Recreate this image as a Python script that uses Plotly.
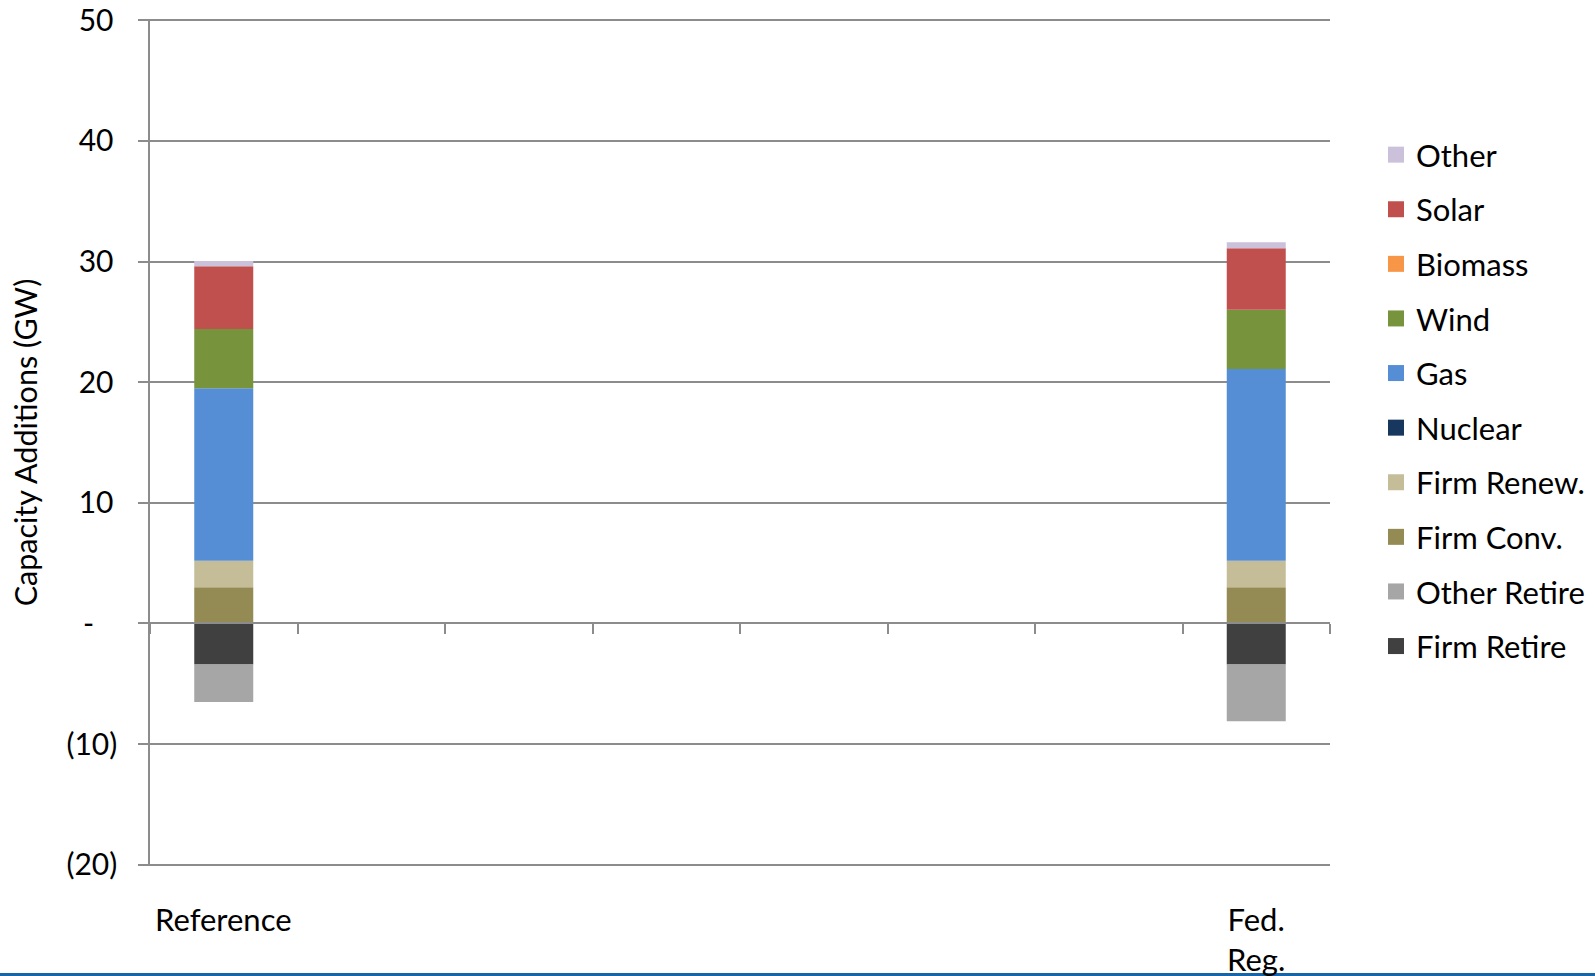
import plotly.graph_objects as go

# Scenario slots along the category axis (only the first and last carry data)
categories = ["Reference", "_2", "_3", "_4", "_5", "_6", "_7", "Fed. Reg."]
scenario_labels = ["Reference", "Fed.<br>Reg."]
scenarios = ["Reference", "Fed. Reg."]

# Capacity additions (GW) by technology, per scenario
firm_retire = [-3.4, -3.4]
other_retire = [-3.1, -4.7]
firm_conv = [3.0, 3.0]
firm_renew = [2.2, 2.2]
nuclear = [0.0, 0.0]
gas = [14.3, 15.9]
wind = [4.9, 4.9]
biomass = [0.0, 0.0]
solar = [5.2, 5.1]
other = [0.45, 0.5]

y_ticks = [-20, -10, 0, 10, 20, 30, 40, 50]
y_tick_labels = ["(20)", "(10)", "-\u00a0\u00a0\u00a0", "10\u2009", "20\u2009", "30\u2009", "40\u2009", "50\u2009"]

# Stack order: negatives first (closest to zero first), then positives bottom-up
series = [
    ("Firm Retire", firm_retire, "#404040"),
    ("Other Retire", other_retire, "#A6A6A6"),
    ("Firm Conv.", firm_conv, "#948A54"),
    ("Firm Renew.", firm_renew, "#C4BD97"),
    ("Nuclear", nuclear, "#17375E"),
    ("Gas", gas, "#558ED5"),
    ("Wind", wind, "#77933C"),
    ("Biomass", biomass, "#F79646"),
    ("Solar", solar, "#C0504D"),
    ("Other", other, "#CCC1DA"),
]
legend_order = ["Other", "Solar", "Biomass", "Wind", "Gas", "Nuclear",
                "Firm Renew.", "Firm Conv.", "Other Retire", "Firm Retire"]

FONT = "Lato"
GRID = "#8c8c8c"

fig = go.Figure()
for name, vals, color in series:
    fig.add_trace(go.Bar(
        x=scenarios, y=vals, name=name, width=0.4,
        marker=dict(color=color, line=dict(width=0)),
        showlegend=False,
    ))

# Legend swatches (square markers sized like the chart's key)
colors = {n: c for n, _, c in series}
for i, name in enumerate(legend_order):
    fig.add_trace(go.Scatter(
        x=[None], y=[None], mode="markers", name=name,
        marker=dict(symbol="square", size=18, color=colors[name]),
        legendgroup=f"g{i}", showlegend=True,
    ))

W, H = 1595, 976
ml, mr, mt, mb = 150, 265, 19, 110
plot_h = H - mt - mb
y_lo, y_hi = -20.1, 50.1

fig.update_layout(
    width=W, height=H,
    margin=dict(l=ml, r=mr, t=mt, b=mb, autoexpand=False),
    paper_bgcolor="white", plot_bgcolor="white",
    barmode="relative",
    font=dict(family=FONT, color="#000000"),
    xaxis=dict(
        type="category", categoryorder="array", categoryarray=categories,
        range=[-0.5, 7.5], anchor="free", position=(0 - y_lo) / (y_hi - y_lo),
        showline=True, linecolor=GRID, linewidth=1.5,
        ticks="outside", tickson="boundaries", ticklen=10, tickcolor=GRID, tickwidth=1.5,
        showticklabels=False, showgrid=False, zeroline=False, automargin=False,
    ),
    yaxis=dict(
        range=[y_lo, y_hi], tickvals=y_ticks, ticktext=y_tick_labels,
        showgrid=True, gridcolor=GRID, gridwidth=1.5,
        showline=True, linecolor=GRID, linewidth=1.5,
        ticks="outside", ticklen=10, tickcolor=GRID, tickwidth=1.5,
        ticklabelstandoff=15, zeroline=False, automargin=False,
        tickfont=dict(family=FONT, size=30, color="#000000"),
        title=dict(text="Capacity Additions (GW)", font=dict(family=FONT, size=30.5), standoff=20),
    ),
    legend=dict(
        xref="container", yref="container", x=1376 / W, y=1 - 128 / H,
        xanchor="left", yanchor="top", maxheight=900,
        font=dict(family=FONT, size=31, color="#000000"),
        traceorder="grouped", tracegroupgap=11.3,
        bgcolor="rgba(0,0,0,0)",
    ),
)

# Category labels under the plot area
for cat, label in zip(scenarios, scenario_labels):
    fig.add_annotation(
        x=cat, xref="x", y=-(898 - (H - mb)) / plot_h, yref="paper",
        text=label, showarrow=False, yanchor="top", xanchor="center",
        font=dict(family=FONT, size=31, color="#000000"),
    )

# Blue rule along the bottom edge of the page
fig.add_shape(
    type="rect", xref="paper", yref="paper",
    x0=-ml / (W - ml - mr) - 0.01, x1=1 + mr / (W - ml - mr) + 0.01,
    y0=-(H - 3 - (H - mb)) / plot_h, y1=-(H + 5 - (H - mb)) / plot_h,
    fillcolor="#1565A8", line=dict(width=0), layer="above",
)

fig.write_html("out.html")
